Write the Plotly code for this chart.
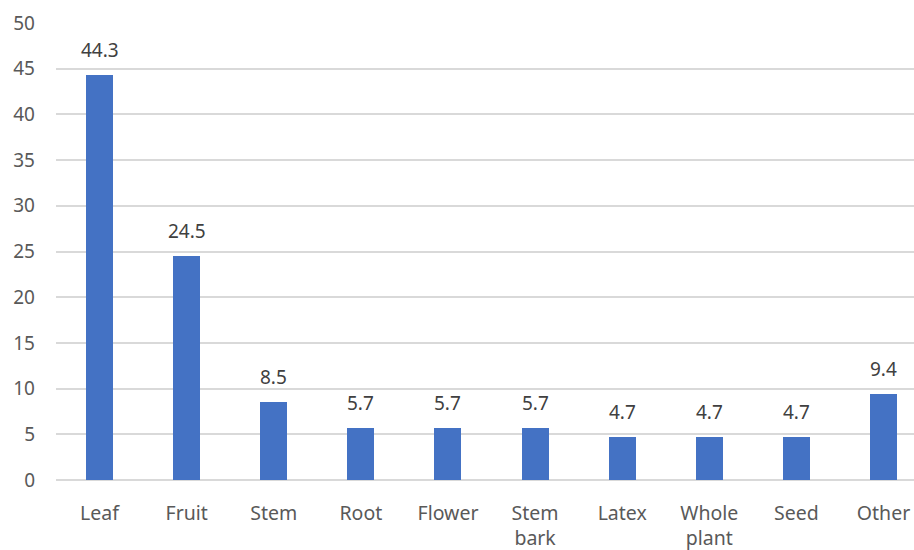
import plotly.graph_objects as go

categories = ["Leaf", "Fruit", "Stem", "Root", "Flower", "Stem<br>bark", "Latex", "Whole<br>plant", "Seed", "Other"]
values = [44.3, 24.5, 8.5, 5.7, 5.7, 5.7, 4.7, 4.7, 4.7, 9.4]
y_ticks = [0, 5, 10, 15, 20, 25, 30, 35, 40, 45, 50]

bar_color = "#4472C4"
font_family = "Noto Sans, Open Sans, sans-serif"

fig = go.Figure(go.Bar(
    x=list(range(len(categories))),
    y=values,
    marker=dict(color=bar_color, line=dict(width=0)),
    width=0.31,
    hoverinfo="skip",
))

for i, v in enumerate(values):
    fig.add_annotation(
        x=i, y=v, text=f"{v:.1f}", showarrow=False,
        yanchor="bottom", yshift=10,
        font=dict(family=font_family, size=19, color="#404040"),
    )

fig.update_layout(
    width=914, height=550,
    margin=dict(l=56, r=0, t=23, b=70),
    paper_bgcolor="white", plot_bgcolor="white",
    showlegend=False,
    font=dict(family=font_family, size=19, color="#595959"),
    bargap=0,
)
fig.update_xaxes(
    range=[-0.5, 9.35],
    tickmode="array",
    tickvals=list(range(len(categories))),
    ticktext=categories,
    showgrid=False, zeroline=False, showline=False, ticks="",
    ticklabelstandoff=19,
    tickfont=dict(size=19.5, color="#595959"),
)
fig.update_yaxes(
    range=[0, 50],
    tickmode="array", tickvals=y_ticks,
    showgrid=True, gridcolor="#d9d9d9", gridwidth=1.5,
    zeroline=True, zerolinecolor="#d9d9d9", zerolinewidth=1.5,
    showline=False, ticks="",
    ticklabelstandoff=20,
    tickfont=dict(size=19, color="#595959"),
)

fig.write_html("out.html")
